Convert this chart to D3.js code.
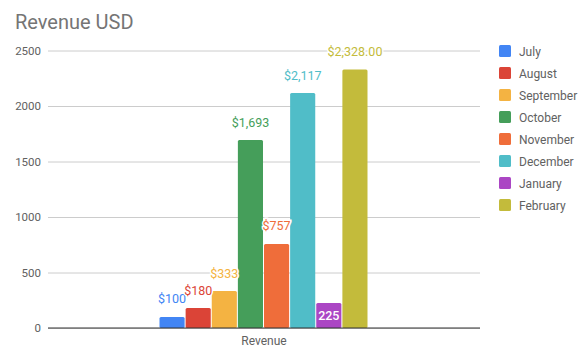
<!DOCTYPE html>
<html><head><meta charset="utf-8">
<script src="https://cdn.jsdelivr.net/npm/d3@7"></script>
<style>body{margin:0;background:#fff}svg{display:block;font-family:Roboto,Arial,sans-serif}</style>
</head><body>
<svg id="c" width="586" height="356"></svg>
<script>
const months = ["July","August","September","October","November","December","January","February"];
const values = [100,180,333,1693,757,2117,225,2328];
const labels = ["$100","$180","$333","$1,693","$757","$2,117","225","$2,328.00"];
const colors = ["#4285f4","#db4437","#f4b342","#459e5a","#ef6d3a","#50bdc8","#ab46c4","#c3bb3b"];
const yTicks = [0,500,1000,1500,2000,2500];
const category = ["Revenue"];

(function(){
const svg = d3.select("#c");
const mL = 48, mR = 480, mT = 50.5, mB = 328;
const y = d3.scaleLinear().domain([0,2500]).range([mB, mT]);
const x0 = d3.scaleBand().domain(category).range([mL, mR]);
const groupW = months.length * 26;
const cx = x0(category[0]) + x0.bandwidth()/2;
const xb = d3.scaleBand().domain(months)
  .range([cx - groupW/2 - 0.5, cx + groupW/2 - 0.5])
  .paddingInner(1/26).paddingOuter(0);

svg.append("text").attr("x",15).attr("y",29).attr("font-size",20).attr("fill","#757575").text("Revenue USD");

const yAxis = d3.axisLeft(y).tickValues(yTicks).tickFormat(d3.format("d")).tickSize(-(mR-mL)).tickPadding(7);
const gy = svg.append("g").attr("transform",`translate(${mL},0)`).call(yAxis);
gy.select(".domain").remove();
gy.selectAll(".tick line").attr("stroke","#cccccc");
gy.selectAll(".tick text").attr("font-size",11.5).attr("fill","#616161").attr("font-family","Roboto,Arial,sans-serif");

svg.selectAll("rect.bar").data(values).join("rect").attr("class","bar")
  .attr("x",(d,i)=>xb(months[i])).attr("width",xb.bandwidth())
  .attr("y",d=>y(d)).attr("height",d=>mB-y(d))
  .attr("rx",1.5).attr("fill",(d,i)=>colors[i]);

svg.append("line").attr("x1",mL).attr("x2",mR).attr("y1",mB).attr("y2",mB).attr("stroke","#333").attr("stroke-width",1.2);

svg.selectAll("text.lbl").data(values).join("text").attr("class","lbl")
  .attr("x",(d,i)=>xb(months[i])+xb.bandwidth()/2)
  .attr("y",(d,i)=> i===6 ? y(d)+17 : y(d)-13.5)
  .attr("text-anchor","middle").attr("font-size",12.5)
  .attr("fill",(d,i)=> i===6 ? "#fff" : colors[i])
  .attr("font-weight",(d,i)=> i===6 ? 500 : "normal")
  .attr("stroke",(d,i)=> i===6 ? "none" : "#fff").attr("stroke-width",3).attr("paint-order","stroke")
  .text((d,i)=>labels[i]);

svg.append("text").attr("x",cx).attr("y",345)
  .attr("text-anchor","middle").attr("font-size",12).attr("fill","#616161").text(category[0]);

const lg = svg.append("g");
months.forEach((m,i)=>{
  const ly = 51 + i*22;
  lg.append("rect").attr("x",499).attr("y",ly-6).attr("width",12).attr("height",12).attr("rx",1.5).attr("fill",colors[i]);
  lg.append("text").attr("x",519).attr("y",ly+4.5).attr("font-size",12).attr("fill","#616161").text(m);
});
})();
</script>
</body></html>
